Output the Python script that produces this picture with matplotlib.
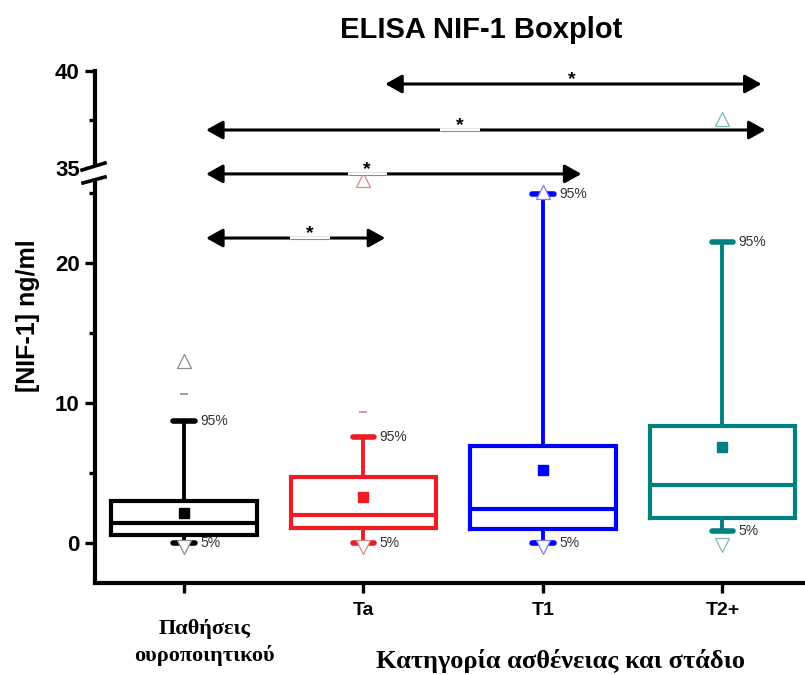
import numpy as np
import matplotlib
matplotlib.use('Agg')
import matplotlib.pyplot as plt
from matplotlib.transforms import ScaledTranslation

# categories and box statistics (ng/ml)
categories = ['Παθήσεις\nουροποιητικού', 'Ta', 'T1', 'T2+']
q1 = [0.55, 1.05, 0.98, 1.75]
median = [1.4, 1.95, 2.4, 4.1]
q3 = [3.0, 4.7, 6.9, 8.3]
mean = [2.1, 3.25, 5.2, 6.8]
p5 = [0.0, 0.0, 0.0, 0.8]
p95 = [8.7, 7.55, 24.9, 21.5]
p99 = [10.6, 9.3, np.nan, np.nan]
vmin = [-0.3, -0.3, -0.3, -0.15]
vmax = [13.0, 25.9, 25.05, 37.53]

# significance comparisons: (start, end, level)
sig_start = [2.121, 1.123, 1.123, 1.123]
sig_end = [4.218, 4.240, 3.214, 2.121]
sig_level = [39.33, 36.96, 26.34, 21.76]
sig_star_x = [3.158, 2.537, 2.021, 1.703]
sig_gap = [False, True, True, True]

colors = ['#000000', '#ee1c24', '#0000ff', '#008080']
flier_colors = ['#8c8c8c', '#d98888', '#7a7aff', '#7fb8b8']

sans = ['Liberation Sans', 'DejaVu Sans']
serif = ['Liberation Serif', 'DejaVu Serif']

# broken y axis: 26.4 .. 34.74 is cut out, upper part is stretched
B1, B2, K = 26.4, 34.74, 1.386


def fwd(v):
    v = np.asarray(v, dtype=float)
    return np.where(v <= B1, v, np.where(v >= B2, B1 + (v - B2) * K, B1))


def inv(u):
    u = np.asarray(u, dtype=float)
    return np.where(u <= B1, u, B2 + (u - B1) / K)


fig = plt.figure(figsize=(8.05, 6.75), dpi=100)
ax = fig.add_axes([95 / 805, 92 / 675, 710 / 805, 512 / 675])
ax.set_yscale('function', functions=(fwd, inv))

pos = np.arange(1, len(categories) + 1)
stats = []
for i in range(len(categories)):
    stats.append(dict(med=median[i], q1=q1[i], q3=q3[i], whislo=p5[i],
                      whishi=p95[i], mean=mean[i], fliers=[], label=categories[i]))

res = ax.bxp(stats, positions=pos, widths=0.81, showmeans=True,
             showfliers=False, capwidths=0.12, patch_artist=False)
for i, c in enumerate(colors):
    res['boxes'][i].set(color=c, lw=3.0, solid_joinstyle='miter')
    res['medians'][i].set(color=c, lw=3.0)
    for w in res['whiskers'][2 * i:2 * i + 2]:
        w.set(color=c, lw=2.8)
    for cp in res['caps'][2 * i:2 * i + 2]:
        cp.set(color=c, lw=4.0, solid_capstyle='round')
    res['means'][i].set(marker='s', markerfacecolor=c, markeredgecolor=c,
                        markersize=7.5)

# extreme values and 99% marks
for i, c in enumerate(flier_colors):
    ax.plot(pos[i], vmax[i], marker='^', ms=10, mfc='white', mec=c, mew=0.9,
            ls='none', zorder=4)
    ax.plot(pos[i], vmin[i], marker='v', ms=10, mfc='white', mec=c, mew=0.9,
            ls='none', zorder=4)
    if not np.isnan(p99[i]):
        ax.plot(pos[i], p99[i], marker='_', ms=6, mec=c, mew=1.2,
                ls='none', zorder=4)
    ax.text(pos[i] + 0.09, p95[i], '95%', fontsize=10, color='#333333',
            va='center', ha='left', family=sans)
    ax.text(pos[i] + 0.09, p5[i], '5%', fontsize=10, color='#333333',
            va='center', ha='left', family=sans)

# significance arrows
down = ScaledTranslation(0, -0.75 / 72, fig.dpi_scale_trans)
for s, e, lv, sx, g in zip(sig_start, sig_end, sig_level, sig_star_x, sig_gap):
    ax.annotate('', xy=(e, lv), xytext=(s, lv),
                arrowprops=dict(arrowstyle='<|-|>,head_length=0.5,head_width=0.28',
                                color='black', lw=2.2, shrinkA=0, shrinkB=0,
                                mutation_scale=20), zorder=5)
    if g:
        ax.plot([sx - 0.11, sx + 0.11], [lv, lv], color='white', lw=2.6,
                solid_capstyle='butt', zorder=6)
        ax.plot([sx - 0.11, sx + 0.11], [lv, lv], color='#8a8a8a', lw=0.8,
                solid_capstyle='butt', zorder=6, transform=ax.transData + down)
    ax.annotate('*', xy=(sx, lv), xytext=(0, -3), textcoords='offset points',
                ha='center', va='bottom', fontsize=14, fontweight='bold',
                family=sans, zorder=7)

ax.set_xlim(0.504, 4.46)
ax.set_ylim(-2.88, 40)

ax.set_yticks([0, 10, 20, 35, 40])
ax.set_yticklabels(['0', '10', '20', '35', '40'])
ax.set_yticks([5, 15, 25, 37.5], minor=True)
ax.set_xticks(pos)
ax.set_xticklabels(categories)
ax.tick_params(axis='both', which='major', direction='out', length=7, width=2.4,
               labelsize=14, pad=4)
ax.tick_params(axis='y', which='major', labelsize=16)
ax.tick_params(axis='x', which='major', pad=7)
ax.tick_params(axis='y', which='minor', direction='out', length=4, width=2.4)
ax.tick_params(axis='x', which='minor', bottom=False)
for lab in ax.get_yticklabels() + ax.get_xticklabels():
    lab.set_fontweight('bold')
    lab.set_family(sans)
first = ax.get_xticklabels()[0]
first.set_family(serif)
first.set_fontsize(16)
first.set_linespacing(1.35)
first.set_transform(first.get_transform() +
                    ScaledTranslation(15 / 72, -12 / 72, fig.dpi_scale_trans))

for side in ['top', 'right']:
    ax.spines[side].set_visible(False)
for side in ['left', 'bottom']:
    ax.spines[side].set_linewidth(3)

# break marks on the y axis
brk_top = [(-0.0183, 0.8066), (0.0141, 0.8203)]
brk_bot = [(-0.0169, 0.7813), (0.0141, 0.7930)]
ax.fill([brk_top[0][0], brk_top[1][0], brk_bot[1][0], brk_bot[0][0]],
        [brk_top[0][1], brk_top[1][1], brk_bot[1][1], brk_bot[0][1]],
        color='white', transform=ax.transAxes, clip_on=False, zorder=8)
for seg in (brk_top, brk_bot):
    ax.plot([seg[0][0], seg[1][0]], [seg[0][1], seg[1][1]], color='black', lw=2.6,
            transform=ax.transAxes, clip_on=False, zorder=9)

ax.set_ylabel('[NIF-1] ng/ml', fontsize=18, fontweight='bold', family=sans)
ax.yaxis.set_label_coords(-0.077, 0.523)
fig.text(0.598, 0.955, 'ELISA NIF-1 Boxplot', ha='center', va='center',
         fontsize=21, fontweight='bold', family=sans)
fig.text(0.696, 0.021, 'Κατηγορία ασθένειας και στάδιο', ha='center', va='center',
         fontsize=19, fontweight='bold', family=serif)

fig.savefig('out.png', dpi=100)
